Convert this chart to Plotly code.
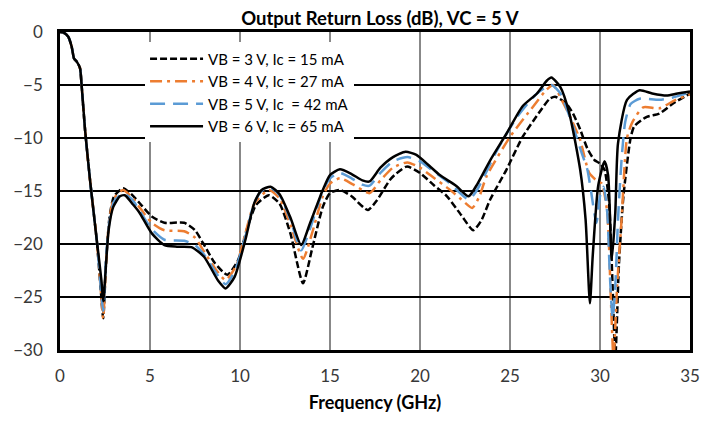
import plotly.graph_objects as go

# shared start of all four curves (they overlap below ~2 GHz)
start_freq = [0.0, 0.2, 0.46, 0.65, 0.78, 0.93, 1.11, 1.2, 1.39, 1.67, 2.04]
start_db = [0.0, -0.05, -0.45, -1.4, -2.5, -2.8, -3.4, -5.0, -9.2, -14.0, -19.6]

vb3_freq = [2.25, 2.4, 2.55, 2.75, 3.0, 3.5, 3.9, 4.35, 5.1, 5.8, 6.9, 7.5, 8.06,
            8.6, 9.3, 9.9, 10.4, 10.9, 11.6, 12.2, 12.8, 13.5, 14.0, 14.6, 15.0,
            15.55, 16.2, 17.1, 17.6, 18.4, 19.26, 20.0, 20.8, 21.5, 22.3, 22.96,
            23.4, 23.9, 24.8, 25.7, 26.7, 27.2, 27.5, 28.1, 28.5, 28.9, 29.3,
            29.7, 30.0, 30.25, 30.5, 30.7, 30.85, 31.05, 31.3, 31.7, 31.9, 32.6,
            33.3, 34.1, 35.0]
vb3_db = [-24.0, -27.0, -22.0, -17.5, -15.5, -14.75, -15.2, -16.0, -17.4, -18.0,
          -18.0, -18.7, -20.25, -21.8, -22.9, -21.5, -18.5, -16.3, -15.4, -16.2,
          -19.0, -23.7, -20.5, -16.5, -15.2, -14.9, -15.5, -16.8, -15.9, -13.8,
          -12.7, -13.3, -14.5, -15.5, -17.3, -18.7, -17.8, -15.8, -13.0, -9.9,
          -7.4, -6.3, -6.1, -6.7, -7.7, -9.2, -11.0, -12.1, -12.4, -13.0, -16.0,
          -24.0, -30.8, -22.0, -15.5, -10.0, -8.9, -8.0, -7.7, -6.7, -5.8]

vb4_freq = [2.25, 2.4, 2.55, 2.75, 3.0, 3.5, 4.0, 4.4, 5.1, 5.8, 6.9, 7.5, 8.0,
            8.7, 9.2, 9.8, 10.3, 10.8, 11.6, 12.2, 12.8, 13.5, 14.0, 14.6, 15.0,
            15.55, 16.3, 17.2, 17.8, 18.5, 19.3, 20.0, 20.8, 21.6, 22.3, 22.9,
            23.3, 23.7, 25.0, 26.3, 27.0, 27.4, 27.9, 28.4, 28.9, 29.4, 29.8,
            30.1, 30.4, 30.6, 30.75, 30.95, 31.2, 31.5, 31.8, 32.4, 33.3, 34.2,
            35.0]
vb4_db = [-24.0, -27.0, -22.0, -17.6, -15.7, -14.9, -15.6, -16.5, -18.0, -18.7,
          -18.8, -19.4, -20.7, -22.5, -23.4, -22.0, -19.0, -16.2, -14.9, -15.7,
          -18.2, -21.4, -19.0, -15.5, -14.3, -13.8, -14.4, -15.2, -14.0, -12.8,
          -12.3, -12.8, -13.8, -14.8, -15.8, -16.6, -15.5, -13.6, -9.9, -7.0,
          -5.5, -5.0, -6.5, -8.2, -10.2, -13.3, -14.0, -14.3, -17.0, -25.0,
          -30.8, -24.0, -17.7, -10.0, -8.5, -7.1, -7.2, -6.4, -5.9]

vb5_freq = [2.25, 2.4, 2.55, 2.75, 3.0, 3.5, 4.0, 4.4, 5.1, 5.8, 6.9, 7.5, 8.0,
            8.7, 9.2, 9.7, 10.3, 10.8, 11.2, 11.7, 12.2, 12.8, 13.4, 13.9, 14.6,
            15.0, 15.55, 16.2, 16.8, 17.2, 17.8, 18.5, 19.3, 20.0, 20.8, 21.6,
            22.7, 23.1, 24.3, 25.4, 26.5, 27.3, 27.8, 28.5, 29.0, 29.3, 29.5,
            29.8, 30.0, 30.2, 30.4, 30.55, 30.7, 30.85, 31.0, 31.2, 31.4, 31.7,
            32.2, 33.3, 34.0, 35.0]
vb5_db = [-23.8, -26.3, -21.5, -17.8, -16.0, -15.2, -15.8, -16.8, -18.6, -19.6,
          -19.7, -20.1, -21.0, -22.8, -23.8, -22.6, -19.3, -16.1, -15.0, -14.7,
          -15.4, -17.7, -20.6, -18.5, -15.0, -13.8, -13.3, -13.8, -14.4, -14.5,
          -13.3, -12.2, -11.8, -12.2, -13.2, -14.2, -15.8, -15.1, -11.1, -8.0,
          -5.8, -5.0, -5.8, -8.9, -11.5, -13.0, -15.0, -18.0, -15.5, -14.6,
          -17.0, -23.0, -27.0, -24.0, -17.7, -12.0, -8.5, -6.8, -6.3, -6.4,
          -6.2, -5.7]

vb6_freq = [2.3, 2.4, 2.7, 2.96, 3.33, 3.6, 4.07, 4.4, 5.1, 5.8, 6.5, 7.3, 8.0,
            8.8, 9.2, 9.7, 10.3, 10.8, 11.2, 11.7, 12.2, 12.8, 13.4, 13.9, 14.6,
            15.0, 15.55, 16.2, 16.8, 17.2, 17.8, 18.5, 19.2, 19.8, 20.5, 21.1,
            22.0, 22.7, 23.2, 23.9, 24.8, 25.7, 26.5, 27.04, 27.3, 27.8, 28.3,
            28.9, 29.2, 29.44, 29.6, 29.9, 30.25, 30.45, 30.65, 30.85, 31.0,
            31.5, 32.2, 32.9, 33.7, 34.3, 35.0]
vb6_db = [-23.4, -25.4, -18.7, -16.5, -15.5, -15.4, -16.3, -17.0, -19.0, -20.1,
          -20.25, -20.3, -21.2, -23.5, -24.2, -23.1, -19.6, -16.1, -14.9, -14.6,
          -15.3, -17.5, -20.1, -18.0, -14.9, -13.5, -12.95, -13.4, -14.0, -14.1,
          -12.8, -11.8, -11.3, -11.6, -12.6, -13.5, -14.5, -15.5, -14.3, -12.1,
          -9.6, -7.0, -5.8, -4.6, -4.3, -5.2, -7.7, -13.0, -17.7, -25.6, -21.0,
          -14.5, -12.2, -13.5, -21.5, -17.0, -10.5, -6.4, -5.5, -5.8, -6.0,
          -5.8, -5.6]

series = [
    ("VB = 3 V, Ic = 15 mA", vb3_freq, vb3_db, "#000000", "7px,3px"),
    ("VB = 4 V, Ic = 27 mA", vb4_freq, vb4_db, "#ED7D31", "12px,5px,3px,5px"),
    ("VB = 5 V, Ic  = 42 mA", vb5_freq, vb5_db, "#5B9BD5", "15px,8px"),
    ("VB = 6 V, Ic = 65 mA", vb6_freq, vb6_db, "#000000", "solid"),
]

FONT = "Lato, 'Open Sans', sans-serif"

fig = go.Figure()
for name, freq, db, color, dash in series:
    fig.add_trace(
        go.Scatter(
            x=start_freq + freq, y=start_db + db, mode="lines", name=name,
            line={"color": color, "width": 2.5, "dash": dash,
                  "shape": "spline", "smoothing": 0.6},
        )
    )

# page body keeps its default 8px margin, so the figure is sized to fit inside
fig.update_layout(
    width=711,
    height=416,
    paper_bgcolor="white",
    plot_bgcolor="white",
    margin={"l": 52, "r": 29, "t": 24, "b": 74, "autoexpand": False},
    title={
        "text": "<b>Output Return Loss (dB), VC = 5 V</b>",
        "x": 0.523, "xanchor": "center", "y": 0.974, "yanchor": "middle",
        "font": {"family": FONT, "size": 18.5, "color": "#000000"},
    },
    legend={
        "x": 0.135, "y": 0.967, "xanchor": "left", "yanchor": "top",
        "bgcolor": "white", "borderwidth": 0, "itemwidth": 53,
        "font": {"family": FONT, "size": 15, "color": "#000000"},
    },
    font={"family": FONT, "size": 17, "color": "#383838"},
)
fig.update_xaxes(
    range=[0, 35], dtick=5, showgrid=True, gridcolor="#888888", gridwidth=1.5,
    showline=True, linecolor="#000000", linewidth=2.5, mirror=True,
    zeroline=False, ticks="", ticklabelstandoff=9, automargin=False,
    title={"text": "<b>Frequency (GHz)</b>", "standoff": 12,
           "font": {"family": FONT, "size": 18, "color": "#000000"}},
)
fig.update_yaxes(
    range=[-30, 0], dtick=5, showgrid=True, gridcolor="#000000", gridwidth=1.5,
    showline=True, linecolor="#000000", linewidth=2.5, mirror=True,
    zeroline=False, ticks="", ticklabelstandoff=11, automargin=False,
)

fig.write_html("out.html")
